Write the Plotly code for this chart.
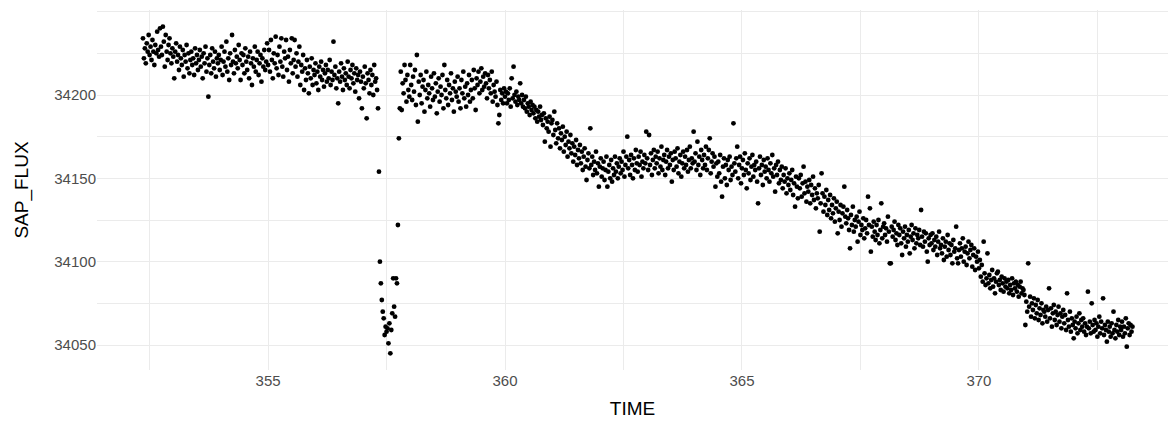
import plotly.graph_objects as go

# Light curve: SAP_FLUX against TIME (days), split into consecutive stretches.

TIME_1 = [
    352.36, 352.38, 352.40, 352.42, 352.44, 352.46, 352.48, 352.50, 352.52, 352.54,
    352.56, 352.58, 352.60, 352.62, 352.64, 352.66, 352.68, 352.70, 352.72, 352.74,
    352.76, 352.78, 352.80, 352.82, 352.84, 352.86, 352.88, 352.90, 352.92, 352.94,
    352.96, 352.98, 353.00, 353.02, 353.04, 353.06, 353.08, 353.10, 353.12, 353.14,
    353.16, 353.18, 353.20, 353.22, 353.24, 353.26, 353.28, 353.30, 353.32, 353.34,
    353.36, 353.38, 353.40, 353.42, 353.44, 353.46, 353.48, 353.50, 353.52, 353.54,
    353.56, 353.58, 353.60, 353.62, 353.64, 353.66, 353.68, 353.70, 353.72, 353.74,
    353.76, 353.78, 353.80, 353.82, 353.84, 353.86, 353.88, 353.90, 353.92, 353.94,
    353.96, 353.98, 354.00, 354.02, 354.04, 354.06, 354.08, 354.10, 354.12, 354.14,
    354.16, 354.18, 354.20, 354.22, 354.24, 354.26, 354.28, 354.30, 354.32, 354.34,
    354.36, 354.38, 354.40, 354.42, 354.44, 354.46, 354.48, 354.50, 354.52, 354.54,
    354.56, 354.58, 354.60, 354.62, 354.64, 354.66, 354.68, 354.70, 354.72, 354.74,
    354.76, 354.78, 354.80, 354.82, 354.84, 354.86, 354.88, 354.90, 354.92, 354.94, 354.96, 354.98,
]
SAP_FLUX_1 = [
    34234, 34222, 34228, 34219, 34231, 34226, 34236, 34224, 34229, 34221,
    34233, 34226, 34218, 34230, 34225, 34238, 34227, 34223, 34240, 34229,
    34224, 34241, 34232, 34217, 34236, 34226, 34221, 34230, 34234, 34225,
    34219, 34228, 34223, 34210, 34226, 34231, 34220, 34224, 34215, 34229,
    34222, 34218, 34227, 34211, 34224, 34220, 34230, 34216, 34225, 34213,
    34221, 34226, 34218, 34222, 34212, 34228, 34219, 34224, 34215, 34221,
    34227, 34217, 34223, 34210, 34225, 34219, 34229, 34214, 34222, 34199,
    34218, 34224, 34213, 34228, 34220, 34216, 34226, 34211, 34222, 34219,
    34224, 34215, 34221, 34229, 34212, 34220, 34226, 34217, 34232, 34214,
    34222, 34209, 34225, 34218, 34236, 34220, 34213, 34227, 34219, 34223,
    34216, 34230, 34221, 34209, 34225, 34218, 34224, 34213, 34228, 34220,
    34215, 34223, 34210, 34226, 34219, 34206, 34222, 34217, 34229, 34214,
    34221, 34226, 34212, 34219, 34224, 34208, 34222, 34217, 34227, 34215, 34220, 34231,
]

TIME_2 = [
    355.00, 355.02, 355.04, 355.06, 355.08, 355.10, 355.12, 355.14, 355.16, 355.18,
    355.20, 355.22, 355.24, 355.26, 355.28, 355.30, 355.32, 355.34, 355.36, 355.38,
    355.40, 355.42, 355.44, 355.46, 355.48, 355.50, 355.52, 355.54, 355.56, 355.58,
    355.60, 355.62, 355.64, 355.66, 355.68, 355.70, 355.72, 355.74, 355.76, 355.78,
    355.80, 355.82, 355.84, 355.86, 355.88, 355.90, 355.92, 355.94, 355.96, 355.98,
    356.00, 356.02, 356.04, 356.06, 356.08, 356.10, 356.12, 356.14, 356.16, 356.18,
    356.20, 356.22, 356.24, 356.26, 356.28, 356.30, 356.32, 356.34, 356.36, 356.38,
    356.40, 356.42, 356.44, 356.46, 356.48, 356.50, 356.52, 356.54, 356.56, 356.58,
    356.60, 356.62, 356.64, 356.66, 356.68, 356.70, 356.72, 356.74, 356.76, 356.78,
    356.80, 356.82, 356.84, 356.86, 356.88, 356.90, 356.92, 356.94, 356.96, 356.98,
    357.00, 357.02, 357.04, 357.06, 357.08, 357.10, 357.12, 357.14, 357.16, 357.18,
    357.20, 357.22, 357.24, 357.26, 357.28, 357.30,
]
SAP_FLUX_2 = [
    34218, 34227, 34214, 34233, 34221, 34210, 34225, 34219, 34235, 34216,
    34224, 34212, 34229, 34220, 34234, 34217, 34211, 34226, 34222, 34233,
    34215, 34223, 34208, 34227, 34219, 34234, 34213, 34221, 34233, 34217,
    34225, 34211, 34220, 34229, 34206, 34218, 34214, 34224, 34203, 34216,
    34209, 34221, 34213, 34201, 34217, 34210, 34222, 34206, 34215, 34212,
    34219, 34207, 34214, 34203, 34217, 34211, 34220, 34209, 34215, 34205,
    34213, 34218, 34208, 34215, 34210, 34221, 34206, 34214, 34209, 34232,
    34212, 34217, 34204, 34210, 34195, 34214, 34208, 34219, 34211, 34203,
    34216, 34209, 34213, 34206, 34220, 34211, 34204, 34215, 34210, 34218,
    34207, 34213, 34202, 34216, 34209, 34212, 34198, 34214, 34208, 34192,
    34211, 34204, 34217, 34207, 34186, 34213, 34209, 34201, 34215, 34206,
    34212, 34200, 34218, 34208, 34210, 34203,
]

# Transit: ingress, bottom and egress
TIME_3 = [
    357.32, 357.34, 357.36, 357.38, 357.40, 357.42, 357.44, 357.46, 357.48, 357.50,
    357.52, 357.54, 357.56, 357.58, 357.60, 357.62, 357.64, 357.66, 357.68, 357.70,
    357.72, 357.74, 357.76, 357.78,
]
SAP_FLUX_3 = [
    34192, 34154, 34100, 34087, 34077, 34070, 34066, 34056, 34061, 34058,
    34060, 34051, 34063, 34045, 34059, 34069, 34090, 34073, 34067, 34090,
    34087, 34122, 34174, 34192,
]

TIME_4 = [
    357.80, 357.82, 357.84, 357.86, 357.88, 357.90, 357.92, 357.94, 357.96, 357.98,
    358.00, 358.02, 358.04, 358.06, 358.08, 358.10, 358.12, 358.14, 358.16, 358.18,
    358.20, 358.22, 358.24, 358.26, 358.28, 358.30, 358.32, 358.34, 358.36, 358.38,
    358.40, 358.42, 358.44, 358.46, 358.48, 358.50, 358.52, 358.54, 358.56, 358.58,
    358.60, 358.62, 358.64, 358.66, 358.68, 358.70, 358.72, 358.74, 358.76, 358.78,
    358.80, 358.82, 358.84, 358.86, 358.88, 358.90, 358.92, 358.94, 358.96, 358.98,
    359.00, 359.02, 359.04, 359.06, 359.08, 359.10, 359.12, 359.14, 359.16, 359.18,
    359.20, 359.22, 359.24, 359.26, 359.28, 359.30, 359.32, 359.34, 359.36, 359.38,
    359.40, 359.42, 359.44, 359.46, 359.48, 359.50, 359.52, 359.54, 359.56, 359.58,
    359.60, 359.62, 359.64, 359.66, 359.68, 359.70, 359.72, 359.74, 359.76, 359.78,
    359.80, 359.82, 359.84, 359.86, 359.88, 359.90, 359.92, 359.94, 359.96, 359.98,
    360.00, 360.02, 360.04, 360.06, 360.08, 360.10, 360.12, 360.14, 360.16, 360.18,
    360.20, 360.22, 360.24, 360.26, 360.28, 360.30, 360.32, 360.34, 360.36, 360.38,
    360.40, 360.42, 360.44, 360.46, 360.48, 360.50, 360.52, 360.54, 360.56, 360.58,
    360.60, 360.62, 360.64, 360.66, 360.68, 360.70, 360.72, 360.74, 360.76, 360.78,
    360.80, 360.82, 360.84, 360.86, 360.88, 360.90, 360.92, 360.94, 360.96, 360.98,
]
SAP_FLUX_4 = [
    34214, 34191, 34207, 34201, 34218, 34209, 34196, 34212, 34203, 34199,
    34218, 34206, 34197, 34211, 34202, 34215, 34194, 34224, 34184, 34208,
    34200, 34212, 34195, 34205, 34209, 34190, 34203, 34214, 34198, 34206,
    34201, 34193, 34211, 34204, 34197, 34213, 34199, 34207, 34189, 34202,
    34210, 34196, 34205, 34200, 34212, 34192, 34218, 34203, 34198, 34209,
    34194, 34206, 34201, 34213, 34197, 34204, 34190, 34208, 34202, 34199,
    34211, 34196, 34204, 34192, 34209, 34201, 34214, 34198, 34205, 34193,
    34207, 34200, 34212, 34196, 34203, 34209, 34198, 34215, 34204, 34191,
    34210, 34206, 34214, 34201, 34208, 34216, 34203, 34211, 34205, 34213,
    34207, 34198, 34212, 34204, 34209, 34201, 34214, 34196, 34206, 34202,
    34199, 34208, 34194, 34183, 34188, 34203, 34197, 34201, 34195, 34204,
    34199, 34202, 34195, 34201, 34197, 34204, 34193, 34210, 34198, 34217,
    34200, 34196, 34202, 34194, 34199, 34197, 34207, 34195, 34200, 34193,
    34197, 34192, 34199, 34190, 34195, 34193, 34188, 34196, 34191, 34194,
    34189, 34193, 34186, 34191, 34184, 34190, 34187, 34193, 34185, 34188,
    34182, 34189, 34172, 34186, 34180, 34184, 34178, 34187, 34169, 34183,
]

TIME_5 = [
    361.00, 361.02, 361.04, 361.06, 361.08, 361.10, 361.12, 361.14, 361.16, 361.18,
    361.20, 361.22, 361.24, 361.26, 361.28, 361.30, 361.32, 361.34, 361.36, 361.38,
    361.40, 361.42, 361.44, 361.46, 361.48, 361.50, 361.52, 361.54, 361.56, 361.58,
    361.60, 361.62, 361.64, 361.66, 361.68, 361.70, 361.72, 361.74, 361.76, 361.78,
    361.80, 361.82, 361.84, 361.86, 361.88, 361.90, 361.92, 361.94, 361.96, 361.98,
    362.00, 362.02, 362.04, 362.06, 362.08, 362.10, 362.12, 362.14, 362.16, 362.18,
    362.20, 362.22, 362.24, 362.26, 362.28, 362.30, 362.32, 362.34, 362.36, 362.38,
    362.40, 362.42, 362.44, 362.46, 362.48, 362.50, 362.52, 362.54, 362.56, 362.58,
    362.60, 362.62, 362.64, 362.66, 362.68, 362.70, 362.72, 362.74, 362.76, 362.78,
    362.80, 362.82, 362.84, 362.86, 362.88, 362.90, 362.92, 362.94, 362.96, 362.98,
    363.00, 363.02, 363.04, 363.06, 363.08, 363.10, 363.12, 363.14, 363.16, 363.18,
    363.20, 363.22, 363.24, 363.26, 363.28, 363.30, 363.32, 363.34, 363.36, 363.38,
    363.40, 363.42, 363.44, 363.46, 363.48, 363.50, 363.52, 363.54, 363.56, 363.58,
    363.60, 363.62, 363.64, 363.66, 363.68, 363.70, 363.72, 363.74, 363.76, 363.78,
    363.80, 363.82, 363.84, 363.86, 363.88, 363.90, 363.92, 363.94, 363.96, 363.98,
    364.00, 364.02, 364.04, 364.06, 364.08, 364.10, 364.12, 364.14, 364.16, 364.18,
    364.20, 364.22, 364.24, 364.26, 364.28, 364.30, 364.32, 364.34, 364.36, 364.38,
    364.40, 364.42, 364.44, 364.46, 364.48,
]
SAP_FLUX_5 = [
    34185, 34176, 34190, 34179, 34171, 34183, 34174, 34180, 34168, 34177,
    34173, 34181, 34166, 34175, 34170, 34178, 34163, 34172, 34168, 34176,
    34165, 34171, 34160, 34169, 34164, 34173, 34158, 34167, 34162, 34170,
    34159, 34166, 34155, 34163, 34168, 34157, 34149, 34161, 34165, 34156,
    34180, 34158, 34163, 34152, 34160, 34155, 34166, 34153, 34159, 34145,
    34157, 34162, 34151, 34156, 34160, 34149, 34155, 34163, 34145, 34154,
    34158, 34150, 34161, 34148, 34156, 34152, 34163, 34154, 34159, 34150,
    34157, 34162, 34153, 34160, 34155, 34166, 34151, 34158, 34163, 34175,
    34156, 34161, 34152, 34164, 34158, 34150, 34162, 34155, 34167, 34159,
    34154, 34163, 34158, 34166, 34151, 34160, 34156, 34164, 34159, 34178,
    34162, 34155, 34176, 34158, 34165, 34152, 34161, 34167, 34156, 34163,
    34159, 34166, 34153, 34162, 34157, 34169, 34155, 34161, 34164, 34152,
    34160, 34167, 34156, 34163, 34158, 34165, 34148, 34161, 34155, 34166,
    34162, 34157, 34168, 34153, 34160, 34164, 34151, 34159, 34166, 34156,
    34163, 34158, 34167, 34154, 34161, 34169, 34156, 34162, 34159, 34178,
    34160, 34165, 34155, 34172, 34158, 34163, 34152, 34167, 34161, 34156,
    34164, 34158, 34169, 34155, 34162, 34167, 34174, 34153, 34160, 34165,
    34157, 34163, 34145, 34159, 34151,
]

TIME_6 = [
    364.50, 364.52, 364.54, 364.56, 364.58, 364.60, 364.62, 364.64, 364.66, 364.68,
    364.70, 364.72, 364.74, 364.76, 364.78, 364.80, 364.82, 364.84, 364.86, 364.88,
    364.90, 364.92, 364.94, 364.96, 364.98, 365.00, 365.02, 365.04, 365.06, 365.08,
    365.10, 365.12, 365.14, 365.16, 365.18, 365.20, 365.22, 365.24, 365.26, 365.28,
    365.30, 365.32, 365.34, 365.36, 365.38, 365.40, 365.42, 365.44, 365.46, 365.48,
    365.50, 365.52, 365.54, 365.56, 365.58, 365.60, 365.62, 365.64, 365.66, 365.68,
    365.70, 365.72, 365.74, 365.76, 365.78,
    365.80, 365.82, 365.84, 365.86, 365.88, 365.90, 365.92, 365.94, 365.96, 365.98,
    366.00, 366.02, 366.04, 366.06, 366.08, 366.10, 366.12, 366.14, 366.16, 366.18,
    366.20, 366.22, 366.24, 366.26, 366.28, 366.30, 366.32, 366.34, 366.36, 366.38,
    366.40, 366.42, 366.44, 366.46, 366.48, 366.50, 366.52, 366.54, 366.56, 366.58,
    366.60, 366.62, 366.64, 366.66, 366.68, 366.70, 366.72, 366.74, 366.76, 366.78,
    366.80, 366.82, 366.84, 366.86, 366.88, 366.90, 366.92, 366.94, 366.96, 366.98,
    367.00, 367.02, 367.04, 367.06, 367.08, 367.10, 367.12, 367.14, 367.16, 367.18,
    367.20, 367.22, 367.24, 367.26, 367.28, 367.30, 367.32, 367.34, 367.36, 367.38,
    367.40, 367.42, 367.44, 367.46, 367.48, 367.50, 367.52, 367.54, 367.56, 367.58,
    367.60, 367.62, 367.64, 367.66, 367.68, 367.70, 367.72, 367.74, 367.76, 367.78,
    367.80, 367.82, 367.84, 367.86, 367.88, 367.90, 367.92, 367.94, 367.96, 367.98,
]
SAP_FLUX_6 = [
    34160, 34153, 34164, 34148, 34139, 34157, 34162, 34150, 34158, 34146,
    34161, 34155, 34163, 34149, 34157, 34152, 34183, 34159, 34154, 34162,
    34169, 34150, 34158, 34163, 34147, 34156, 34161, 34152, 34165, 34155,
    34144, 34159, 34153, 34162, 34149, 34157, 34164, 34151, 34158, 34155,
    34160, 34148, 34135, 34156, 34163, 34152, 34158, 34146, 34161, 34154,
    34157, 34150, 34162, 34155, 34148, 34159, 34153, 34164, 34151, 34156,
    34142, 34158, 34152, 34160, 34147,
    34155, 34149, 34157, 34144, 34152, 34148, 34156, 34141, 34150, 34146,
    34153, 34143, 34149, 34155, 34140, 34147, 34133, 34151, 34145, 34138,
    34150, 34144, 34152, 34139, 34147, 34157, 34141, 34148, 34136, 34145,
    34142, 34149, 34135, 34146, 34140, 34151, 34137, 34144, 34132, 34141,
    34138, 34146, 34118, 34135, 34153, 34141, 34130, 34139, 34134, 34143,
    34128, 34137, 34131, 34140, 34126, 34134, 34129, 34138, 34124, 34132,
    34136, 34117, 34130, 34125, 34134, 34121, 34129, 34133, 34145, 34127,
    34123, 34131, 34126, 34119, 34108, 34128, 34122, 34133, 34118, 34125,
    34121, 34127, 34112, 34124, 34130, 34116, 34122, 34119, 34126, 34114,
    34120, 34125, 34117, 34139, 34122, 34132, 34106, 34121, 34115, 34124,
    34118, 34113, 34122, 34116, 34125, 34111, 34119, 34135, 34114, 34121,
]

TIME_7 = [
    368.00, 368.02, 368.04, 368.06, 368.08, 368.10, 368.12, 368.14, 368.16, 368.18,
    368.20, 368.22, 368.24, 368.26, 368.28, 368.30, 368.32, 368.34, 368.36, 368.38,
    368.40, 368.42, 368.44, 368.46, 368.48, 368.50, 368.52, 368.54, 368.56, 368.58,
    368.60, 368.62, 368.64, 368.66, 368.68, 368.70, 368.72, 368.74, 368.76, 368.78,
    368.80, 368.82, 368.84, 368.86, 368.88, 368.90, 368.92, 368.94, 368.96, 368.98,
    369.00, 369.02, 369.04, 369.06, 369.08, 369.10, 369.12, 369.14, 369.16, 369.18,
    369.20, 369.22, 369.24, 369.26, 369.28, 369.30, 369.32, 369.34, 369.36, 369.38,
    369.40, 369.42, 369.44, 369.46, 369.48, 369.50, 369.52, 369.54, 369.56, 369.58,
    369.60, 369.62, 369.64, 369.66, 369.68, 369.70, 369.72, 369.74, 369.76, 369.78,
    369.80, 369.82, 369.84, 369.86, 369.88, 369.90, 369.92, 369.94, 369.96, 369.98,
    370.00, 370.02, 370.04, 370.06, 370.08, 370.10, 370.12, 370.14, 370.16, 370.18,
    370.20, 370.22, 370.24, 370.26, 370.28, 370.30, 370.32, 370.34, 370.36, 370.38,
    370.40, 370.42, 370.44, 370.46, 370.48, 370.50, 370.52, 370.54, 370.56, 370.58,
    370.60, 370.62, 370.64, 370.66, 370.68, 370.70, 370.72, 370.74, 370.76, 370.78,
    370.80, 370.82, 370.84, 370.86, 370.88, 370.90, 370.92, 370.94, 370.96, 370.98,
]
SAP_FLUX_7 = [
    34123, 34116, 34120, 34112, 34127, 34118, 34099, 34099, 34121, 34115,
    34119, 34124, 34113, 34117, 34110, 34122, 34116, 34120, 34111, 34104,
    34118, 34114, 34121, 34109, 34116, 34112, 34119, 34105, 34115, 34122,
    34113, 34117, 34108, 34120, 34111, 34116, 34114, 34119, 34110, 34131,
    34115, 34109, 34118, 34112, 34117, 34106, 34100, 34114, 34110, 34116,
    34111, 34117, 34107, 34113, 34109, 34115, 34104, 34112, 34118, 34108,
    34110, 34105, 34114, 34101, 34109, 34112, 34103, 34116, 34107, 34111,
    34104, 34110, 34099, 34113, 34106, 34108, 34121, 34102, 34099, 34107,
    34111, 34103, 34108, 34114, 34100, 34106, 34109, 34098, 34105, 34112,
    34102, 34107, 34110, 34097, 34104, 34108, 34095, 34103, 34100, 34106,
    34096, 34101, 34091, 34098, 34088, 34112, 34093, 34086, 34090, 34105,
    34087, 34092, 34084, 34089, 34095, 34085, 34090, 34081, 34088, 34093,
    34094, 34086, 34089, 34083, 34091, 34087, 34082, 34090, 34085, 34088,
    34084, 34089, 34081, 34086, 34083, 34090, 34080, 34087, 34084, 34088,
    34082, 34086, 34079, 34085, 34088, 34081, 34084, 34083, 34080, 34062,
]

TIME_8 = [
    371.00, 371.02, 371.04, 371.06, 371.08, 371.10, 371.12, 371.14, 371.16, 371.18,
    371.20, 371.22, 371.24, 371.26, 371.28, 371.30, 371.32, 371.34, 371.36, 371.38,
    371.40, 371.42, 371.44, 371.46, 371.48, 371.50, 371.52, 371.54, 371.56, 371.58,
    371.60, 371.62, 371.64, 371.66, 371.68, 371.70, 371.72, 371.74, 371.76, 371.78,
    371.80, 371.82, 371.84, 371.86, 371.88, 371.90, 371.92, 371.94, 371.96, 371.98,
    372.00, 372.02, 372.04, 372.06, 372.08, 372.10, 372.12, 372.14, 372.16, 372.18,
    372.20, 372.22, 372.24, 372.26, 372.28, 372.30, 372.32, 372.34, 372.36, 372.38,
    372.40, 372.42, 372.44, 372.46, 372.48, 372.50, 372.52, 372.54, 372.56, 372.58,
    372.60, 372.62, 372.64, 372.66, 372.68, 372.70, 372.72, 372.74, 372.76, 372.78,
    372.80, 372.82, 372.84, 372.86, 372.88, 372.90, 372.92, 372.94, 372.96, 372.98,
    373.00, 373.02, 373.04, 373.06, 373.08, 373.10, 373.12, 373.14, 373.16, 373.18,
    373.20, 373.22, 373.24,
]
SAP_FLUX_8 = [
    34076, 34070, 34099, 34073, 34079, 34067, 34075, 34071, 34078, 34066,
    34074, 34069, 34077, 34065, 34072, 34068, 34075, 34063, 34071, 34070,
    34067, 34073, 34064, 34071, 34084, 34066, 34072, 34061, 34069, 34074,
    34065, 34070, 34062, 34068, 34073, 34064, 34069, 34060, 34067, 34071,
    34063, 34068, 34059, 34081, 34065, 34061, 34070, 34058, 34066, 34062,
    34054, 34064, 34060, 34067, 34057, 34063, 34069, 34059, 34065, 34061,
    34066, 34058, 34063, 34056, 34061, 34082, 34060, 34064, 34057, 34075,
    34062, 34058, 34065, 34059, 34063, 34055, 34061, 34067, 34057, 34064,
    34060, 34078, 34056, 34062, 34059, 34052, 34064, 34058, 34061, 34055,
    34063, 34057, 34070, 34059, 34054, 34062, 34058, 34065, 34056, 34061,
    34059, 34064, 34055, 34061, 34057, 34066, 34049, 34060, 34063, 34056,
    34062, 34058, 34061,
]

TIME = TIME_1 + TIME_2 + TIME_3 + TIME_4 + TIME_5 + TIME_6 + TIME_7 + TIME_8
SAP_FLUX = (SAP_FLUX_1 + SAP_FLUX_2 + SAP_FLUX_3 + SAP_FLUX_4
            + SAP_FLUX_5 + SAP_FLUX_6 + SAP_FLUX_7 + SAP_FLUX_8)
assert len(TIME) == len(SAP_FLUX), (len(TIME), len(SAP_FLUX))

X_TICKS = [355, 360, 365, 370]
Y_TICKS = [34050, 34100, 34150, 34200]

GRID = "#EBEBEB"

fig = go.Figure(
    go.Scatter(
        x=TIME,
        y=SAP_FLUX,
        mode="markers",
        marker=dict(color="black", size=4.8, line=dict(width=0)),
        hovertemplate="TIME=%{x}<br>SAP_FLUX=%{y}<extra></extra>",
    )
)

fig.update_layout(
    width=1170,
    height=421,
    margin=dict(l=97, r=2, t=10, b=51),
    plot_bgcolor="white",
    paper_bgcolor="white",
    showlegend=False,
    font=dict(family="Liberation Sans, Arial, sans-serif", size=15, color="#4D4D4D"),
)

fig.update_xaxes(
    range=[351.39, 373.99],
    tickmode="array",
    tickvals=X_TICKS,
    ticktext=[str(v) for v in X_TICKS],
    ticks="",
    showline=False,
    zeroline=False,
    showgrid=True,
    gridcolor=GRID,
    gridwidth=1.1,
    minor=dict(tickmode="linear", tick0=352.5, dtick=2.5, showgrid=True,
               gridcolor=GRID, gridwidth=0.55, ticks=""),
    title=dict(text="TIME", font=dict(size=19, color="black"), standoff=13),
)

fig.update_yaxes(
    range=[34035, 34251],
    tickmode="array",
    tickvals=Y_TICKS,
    ticktext=[str(v) for v in Y_TICKS],
    ticks="",
    showline=False,
    zeroline=False,
    showgrid=True,
    gridcolor=GRID,
    gridwidth=1.1,
    minor=dict(tickmode="linear", tick0=34025, dtick=25, showgrid=True,
               gridcolor=GRID, gridwidth=0.55, ticks=""),
    title=dict(text="SAP_FLUX", font=dict(size=19, color="black"), standoff=20),
)

fig.write_html("out.html")
